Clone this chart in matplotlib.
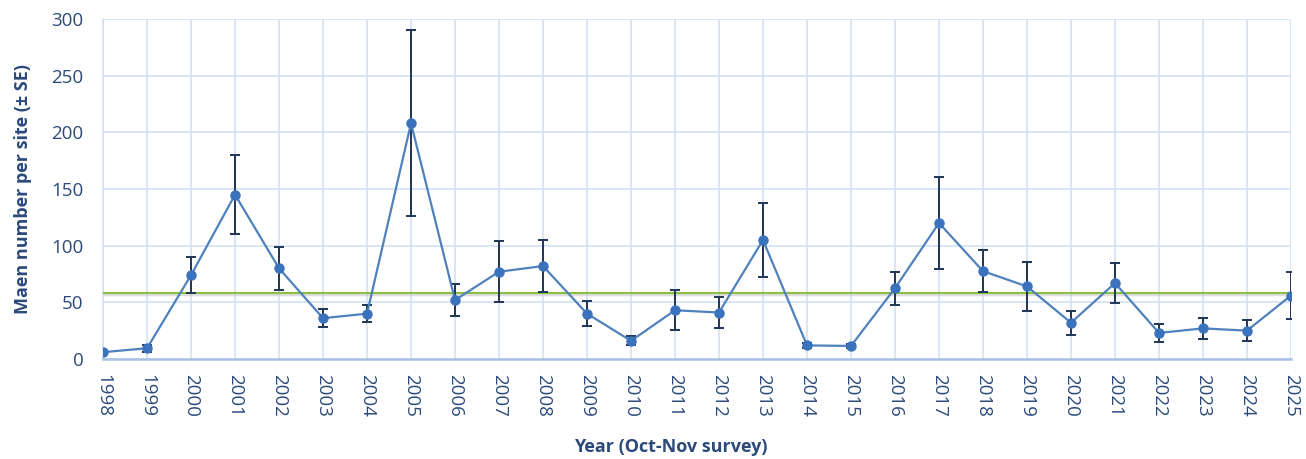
import matplotlib.pyplot as plt
import numpy as np

# Survey years and mean counts per site
years = list(range(1998, 2026))
means = [6, 9.5, 74, 145, 80, 36, 40, 208, 52, 77, 82, 40, 16, 43, 41, 105,
         12, 11.5, 62.5, 120, 77.5, 64, 32, 67, 23, 27, 25, 56]
se = [1, 3, 16, 35, 19, 8, 7.5, 82, 14, 27, 23, 11, 4, 17.5, 13.5, 33,
      2, 2, 14.5, 41, 18.5, 21.5, 10.5, 17.5, 8, 9.5, 9, 21]
long_term_mean = 58.5

plt.rcParams['font.family'] = ['Open Sans', 'DejaVu Sans']

navy = '#2B4A7A'
fig = plt.figure(figsize=(13.06, 4.59), dpi=100)
ax = fig.add_axes([0.0789, 0.2179, 0.9096, 0.7407])

# long-term average line with a soft shadow
ax.axhline(long_term_mean - 1.2, color='#C8C8C8', linewidth=2.5, alpha=0.6, zorder=2)
ax.axhline(long_term_mean, color='#8CBF3F', linewidth=1.5, zorder=3)

ax.errorbar(years, means, yerr=se, fmt='none', ecolor='#1F3556',
            elinewidth=1.4, capsize=3.5, capthick=1.4, zorder=4)
ax.plot(years, means, color='#4F81BD', linewidth=1.6, marker='o',
        markersize=6.5, markerfacecolor='#3A72BE', markeredgecolor='#3A72BE',
        zorder=5)

ax.set_xlim(1998, 2025)
ax.set_ylim(0, 300)
ax.set_xticks(years)
ax.set_xticklabels([str(y) for y in years], rotation=270)
ax.set_yticks(range(0, 301, 50))

ax.grid(True, color='#D2E2F7', linewidth=1.2, zorder=0)
ax.set_axisbelow(True)
for side in ['top', 'right']:
    ax.spines[side].set_visible(False)
ax.spines['left'].set_color('#D2E2F7')
ax.spines['left'].set_linewidth(1.2)
ax.spines['bottom'].set_color('#A9C1E6')
ax.spines['bottom'].set_linewidth(1.8)
ax.tick_params(length=0, labelsize=13.5, labelcolor=navy)
ax.tick_params(axis='x', pad=11)
ax.tick_params(axis='y', pad=14)

ax.set_ylabel('Maen number per site (± SE)', fontsize=13,
              fontweight='bold', color=navy, labelpad=14)
fig.text(671 / 1306, 1 - 447 / 459, 'Year (Oct-Nov survey)', fontsize=13,
         fontweight='bold', color=navy, ha='center', va='center')

fig.savefig('out.png', dpi=100)
